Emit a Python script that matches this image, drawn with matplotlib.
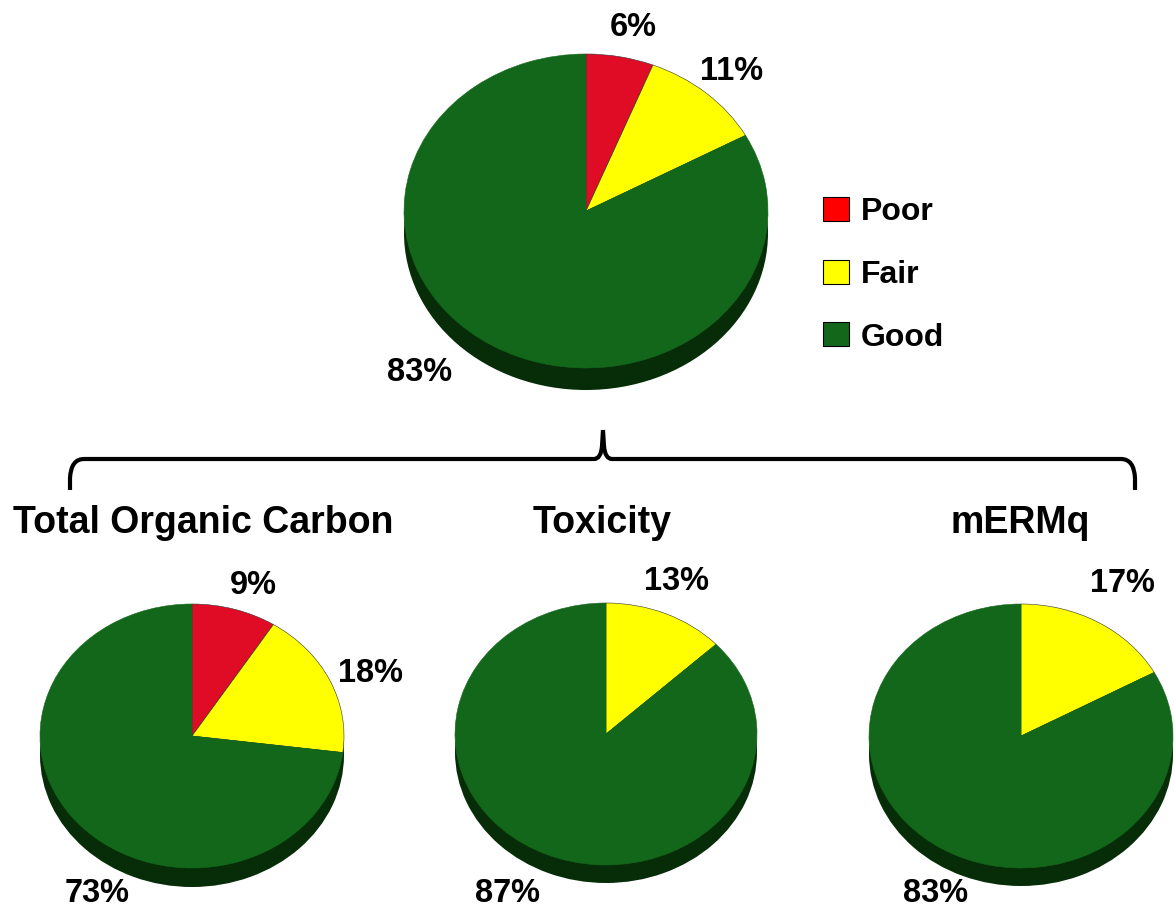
import matplotlib
matplotlib.use("Agg")
import matplotlib.pyplot as plt
from matplotlib.patches import Patch, PathPatch
from matplotlib.path import Path

plt.rcParams['font.family'] = ['Liberation Sans', 'DejaVu Sans']
plt.rcParams['font.weight'] = 'bold'

W, H = 1174, 908

# shares, clockwise from 12 o'clock: poor, fair, good
top_vals = [6, 11, 83]
toc_vals = [9, 18, 73]
tox_vals = [0, 13, 87]
erm_vals = [0, 17, 83]

categories = ['Poor', 'Fair', 'Good']
titles = ['Total Organic Carbon', 'Toxicity', 'mERMq']

RED = '#E00B25'
YELLOW = '#FFFF00'
GREEN = '#13671A'
DARK = '#062C08'


def pie3d(fig, vals, cx, cy, rx, ry, depth):
    # axes box in pixels, pie squashed by turning the aspect off
    ax = fig.add_axes([(cx - rx) / W, 1 - (cy + ry + depth) / H,
                       2 * rx / W, (2 * ry + depth) / H])
    d = depth / ry
    ax.pie([1], colors=[DARK], center=(0, -d), radius=1, startangle=90)
    keep = [v for v in vals if v > 0]
    cols = [c for v, c in zip(vals, [RED, YELLOW, GREEN]) if v > 0]
    wedges, _ = ax.pie(keep, colors=cols, center=(0, 0), radius=1, startangle=90, counterclock=False,
                       wedgeprops=dict(edgecolor='#333333', linewidth=0.4))
    wedges[-1].set_edgecolor(GREEN)
    ax.set_aspect('auto')
    ax.set_xlim(-1, 1)
    ax.set_ylim(-1 - d, 1)
    return ax


def label(x, y, s, size=23.5):
    fig.text(x / W, 1 - y / H, s, ha='center', va='center', fontsize=size, color='black')


fig = plt.figure(figsize=(W / 100, H / 100), dpi=100, facecolor='white')

pie3d(fig, top_vals, 586, 211, 182, 157, 22)
pie3d(fig, toc_vals, 192, 736, 152, 132, 19)
pie3d(fig, tox_vals, 606, 734, 151, 131, 18)
pie3d(fig, erm_vals, 1021, 736, 152, 132, 18)

label(633, 28, '6%')
label(732, 71, '11%')
label(420, 372, '83%')
label(253, 585, '9%')
label(371, 674, '18%')
label(97, 894, '73%')
label(676, 581, '13%')
label(508, 894, '87%')
label(1122, 584, '17%')
label(936, 893, '83%')

label(203, 523, titles[0], 27)
label(602, 523, titles[1], 27)
label(1020, 523, titles[2], 27)

# brace
over = fig.add_axes([0, 0, 1, 1], zorder=5)
over.set_xlim(0, W)
over.set_ylim(H, 0)
over.axis('off')
over.patch.set_alpha(0)
codes = [Path.MOVETO, Path.LINETO, Path.CURVE3, Path.CURVE3, Path.LINETO, Path.CURVE3, Path.CURVE3, Path.LINETO]
verts = [(70, 490), (70, 478), (71, 459), (84, 459), (594, 459), (601, 459), (602, 446), (603, 430)]
over.add_patch(PathPatch(Path(verts, codes), fill=False, lw=3, edgecolor='black'))
verts = [(1135, 490), (1135, 478), (1134, 459), (1121, 459), (612, 459), (605, 459), (604, 446), (603, 430)]
over.add_patch(PathPatch(Path(verts, codes), fill=False, lw=3, edgecolor='black'))

handles = [Patch(facecolor=c, edgecolor='black', linewidth=0.8) for c in ['#FF0000', YELLOW, GREEN]]
fig.legend(handles, categories, loc='upper left', bbox_to_anchor=(823 / W, 1 - 197 / H),
           frameon=False, fontsize=23, handlelength=0.81, handleheight=0.78,
           handletextpad=0.37, labelspacing=1.02, borderpad=0, borderaxespad=0)

fig.savefig('out.png', dpi=100)
